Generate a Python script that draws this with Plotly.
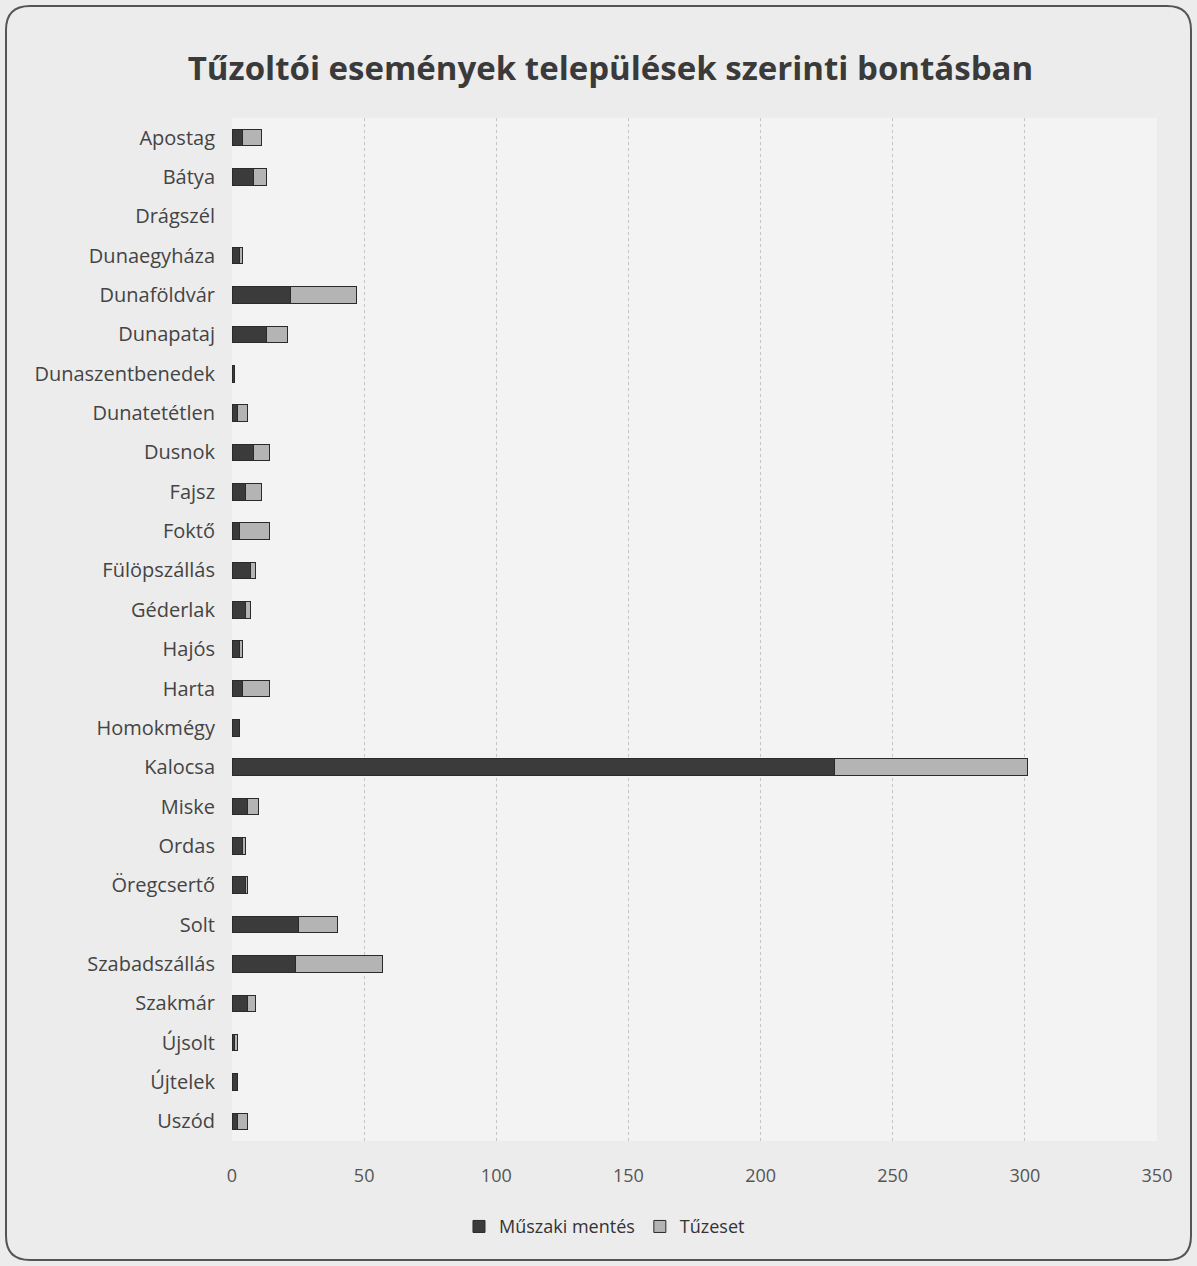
import plotly.graph_objects as go

towns = ["Apostag", "Bátya", "Drágszél", "Dunaegyháza", "Dunaföldvár", "Dunapataj",
         "Dunaszentbenedek", "Dunatetétlen", "Dusnok", "Fajsz", "Foktő", "Fülöpszállás",
         "Géderlak", "Hajós", "Harta", "Homokmégy", "Kalocsa", "Miske", "Ordas",
         "Öregcsertő", "Solt", "Szabadszállás", "Szakmár", "Újsolt", "Újtelek", "Uszód"]
muszaki = [4, 8, 0, 3, 22, 13, 1, 2, 8, 5, 3, 7, 5, 3, 4, 3, 228, 6, 4, 5, 25, 24, 6, 1, 2, 2]
tuzeset = [7, 5, 0, 1, 25, 8, 0, 4, 6, 6, 11, 2, 2, 1, 10, 0, 73, 4, 1, 1, 15, 33, 3, 1, 0, 4]
x_ticks = [0, 50, 100, 150, 200, 250, 300, 350]

FONT = "Open Sans"
fig = go.Figure()
fig.add_trace(go.Bar(y=towns, x=muszaki, orientation="h", name="Műszaki mentés",
                     marker=dict(color="#3b3b3b",
                                 line=dict(color="#2a2a2a", width=[1 if v > 0 else 0 for v in muszaki]))))
fig.add_trace(go.Bar(y=towns, x=tuzeset, orientation="h", name="Tűzeset",
                     marker=dict(color="#b4b4b4",
                                 line=dict(color="#2a2a2a", width=[1 if v > 0 else 0 for v in tuzeset]))))

W, H = 1197, 1266
l, r, t, b = 232, 40, 118, 125
fig.update_layout(
    barmode="stack", bargap=0.58,
    width=W, height=H,
    margin=dict(l=l, r=r, t=t, b=b),
    paper_bgcolor="#ececec", plot_bgcolor="#f3f3f3",
    font=dict(family=FONT, size=18, color="#444444"),
    title=dict(text="<b>Tűzoltói események települések szerinti bontásban</b>",
               x=0.51, xref="container", y=0.946, yref="container",
               xanchor="center", yanchor="middle",
               font=dict(family=FONT, size=33, color="#3a3a3a")),
    legend=dict(orientation="h", x=0.505, xref="container", y=0.031, yref="container",
                xanchor="center", yanchor="middle", font=dict(size=18, color="#333333"),
                traceorder="normal"),
    showlegend=True,
)
fig.update_xaxes(range=[0, 350], tickvals=x_ticks, showgrid=True, gridcolor="#c4c4c4",
                 griddash="dot", gridwidth=1, zeroline=False, showline=False, ticks="",
                 ticklabelstandoff=22, tickfont=dict(size=18, color="#555555"))
fig.update_yaxes(categoryorder="array", categoryarray=towns, autorange="reversed",
                 showgrid=False, ticks="", ticklabelstandoff=16,
                 tickfont=dict(size=20, color="#444444"))

pw, ph = W - l - r, H - t - b
def px(x): return (x - l) / pw
def py(y): return 1 - (y - t) / ph
x0, y0, x1, y1, rad = 6, 6, 1191, 1260, 24
path = (f"M {px(x0+rad)},{py(y0)} L {px(x1-rad)},{py(y0)} Q {px(x1)},{py(y0)} {px(x1)},{py(y0+rad)} "
        f"L {px(x1)},{py(y1-rad)} Q {px(x1)},{py(y1)} {px(x1-rad)},{py(y1)} "
        f"L {px(x0+rad)},{py(y1)} Q {px(x0)},{py(y1)} {px(x0)},{py(y1-rad)} "
        f"L {px(x0)},{py(y0+rad)} Q {px(x0)},{py(y0)} {px(x0+rad)},{py(y0)} Z")
fig.add_shape(type="path", xref="paper", yref="paper", path=path, layer="below",
              line=dict(color="#555555", width=2), fillcolor="rgba(0,0,0,0)")

fig.write_html("out.html", config={"displayModeBar": False},
               post_script="document.body.style.margin='0';")
